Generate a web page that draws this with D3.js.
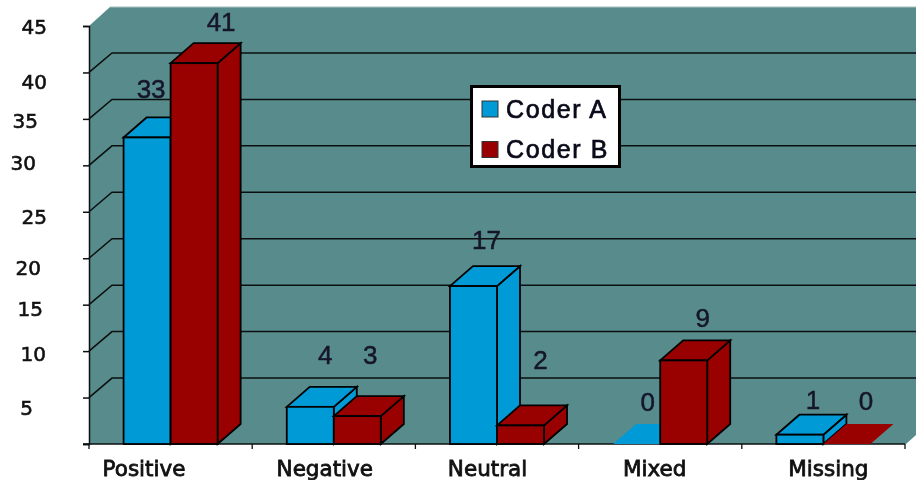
<!DOCTYPE html>
<html><head><meta charset="utf-8">
<script src="https://d3js.org/d3.v7.min.js"></script>
<style>html,body{margin:0;padding:0;background:#fff}svg{display:block;filter:blur(0.4px)}</style>
</head><body><svg id="c" width="916" height="480"></svg>
<script>
const categories = ["Positive","Negative","Neutral","Mixed","Missing"];
const coderA = [33,4,17,0,1];
const coderB = [41,3,2,9,0];
const seriesNames = ["Coder A","Coder B"];
const tickValues = [0,5,10,15,20,25,30,35,40,45];
// hand-set drift of the labels in the source picture
const tickNudgeX = {5:-14,10:-1,15:-4,20:-6,25:0,30:-11,35:-9,40:0,45:0};
const tickNudgeY = {5:10,10:2,15:4,20:9,25:5,30:-3,35:1,40:9,45:0};
const catNudgeX = [-26.6,-9,-9.5,-5.5,5];
const valueNudgeX = [[4,15,13,11,13],[27,13,20,19,19]];
const valueNudgeY = [[19,23,17,13,6],[12,32,36,13,14]];

const svg = d3.select("#c");
const M = {l:89,r:905,b:444,t:26,dx:23,dy:20};
const colors = {wall:"#588c8c",a:"#009bd6",b:"#990000",ink:"#0a0f0f"};
const y = d3.scaleLinear().domain([0,45]).range([M.b,M.t]);
const x0 = d3.scaleBand().domain(categories).range([M.l,M.r]).paddingInner(0.4237).paddingOuter(0.21185);
const x1 = d3.scaleBand().domain([0,1]).range([0,x0.bandwidth()]);
const poly = p => p.map(q=>q.join(",")).join(" ");

// walls and floor
svg.append("polygon").attr("fill",colors.wall).attr("points",poly([
  [M.l,M.t],[M.l+21,7],[916,7],[916,435],[M.r+1,M.b],[M.l,M.b]]));
svg.append("line").attr("x1",M.l+21).attr("y1",7).attr("x2",916).attr("y2",7).attr("stroke","#a9bfbf").attr("stroke-width",1);

// grid
const grid = svg.append("g").attr("fill","none").attr("stroke",colors.ink).attr("stroke-width",1.5);
tickValues.filter(v=>v>0 && v<45).forEach(v=>{
  grid.append("path").attr("d",d3.line()([[M.l,y(v)],[M.l+M.dx,y(v)-M.dy+0.5],[916,y(v)-M.dy+0.5]]));
});

// axes
const gy = svg.append("g").attr("transform",`translate(${M.l},0)`)
  .call(d3.axisLeft(y).tickValues(tickValues).tickSize(6).tickFormat(d=>d===0?"":d));
gy.select(".domain").attr("stroke",colors.ink).attr("stroke-width",1.5);
gy.selectAll(".tick line").attr("stroke",colors.ink).attr("stroke-width",1.5);
gy.selectAll(".tick text")
  .attr("font-family","DejaVu Sans").attr("font-size",20).attr("fill","#111").attr("stroke","#111").attr("stroke-width",0.6)
  .attr("text-anchor","end")
  .attr("x",d=>-42+(tickNudgeX[d]||0)).attr("dy","0.36em")
  .attr("y",d=>(tickNudgeY[d]||0));

const gx = svg.append("g").attr("transform",`translate(0,${M.b})`)
  .call(d3.axisBottom(x0).tickSize(0).tickPadding(17));
gx.select(".domain").remove();
gx.selectAll(".tick text").attr("font-family","DejaVu Sans").attr("font-size",21.5)
  .attr("fill","#111").attr("stroke","#111").attr("stroke-width",0.8)
  .attr("dx",(d,i)=>catNudgeX[i]);
svg.append("g").selectAll("line").data(d3.range(categories.length+1)).join("line")
  .attr("x1",i=>M.l+i*x0.step()).attr("x2",i=>M.l+i*x0.step())
  .attr("y1",M.b).attr("y2",M.b+5).attr("stroke",colors.ink).attr("stroke-width",1.3);
svg.append("line").attr("x1",M.l-6).attr("x2",M.r).attr("y1",M.b).attr("y2",M.b).attr("stroke",colors.ink).attr("stroke-width",1.5);

// bars: back to front, series A before B within a category
const rows = [];
categories.forEach((c,i)=>{ rows.push({c,i,s:0,v:coderA[i]}); rows.push({c,i,s:1,v:coderB[i]}); });
const bars = svg.append("g").attr("stroke","#000").attr("stroke-width",1.8).attr("stroke-linejoin","miter");
rows.forEach(r=>{
  const xl = x0(r.c)+x1(r.s), xr = xl+x1.bandwidth(), yt = y(r.v), yb = y(0);
  const fill = r.s===0?colors.a:colors.b;
  const g = bars.append("g").attr("fill",fill);
  if (r.v>0) {
    g.append("polygon").attr("points",poly([[xr,yt],[xr+M.dx,yt-M.dy],[xr+M.dx,yb-M.dy],[xr,yb]]));
    g.append("polygon").attr("points",poly([[xl,yt],[xl+M.dx,yt-M.dy],[xr+M.dx,yt-M.dy],[xr,yt]]));
    g.append("rect").attr("x",xl).attr("y",yt).attr("width",xr-xl).attr("height",yb-yt);
  } else {
    g.append("polygon").attr("stroke","none").attr("points",poly([[xl,yb],[xl+M.dx,yb-M.dy],[xr+M.dx,yb-M.dy],[xr,yb]]));
  }
});
svg.append("g").selectAll("text").data(rows).join("text")
  .attr("x",d=>x0(d.c)+x1(d.s)+x1.bandwidth()/2+valueNudgeX[d.s][d.i])
  .attr("y",d=>y(d.v)-M.dy-valueNudgeY[d.s][d.i])
  .attr("text-anchor","middle").attr("font-family","Liberation Sans").attr("font-size",26)
  .attr("fill","#16162a").attr("stroke","#16162a").attr("stroke-width",0.5).text(d=>d.v);

// legend
const lg = svg.append("g").attr("transform","translate(471.5,86.5)");
lg.append("rect").attr("width",148).attr("height",80).attr("fill","#fff").attr("stroke","#000").attr("stroke-width",3);
seriesNames.forEach((n,i)=>{
  const row = lg.append("g").attr("transform",`translate(10.5,${14.5+i*40.5})`);
  row.append("rect").attr("width",16).attr("height",16).attr("fill",i?colors.b:colors.a).attr("stroke","#333").attr("stroke-width",1);
  row.append("text").attr("x",24).attr("y",16.5).attr("font-family","Liberation Sans").attr("font-size",25)
    .attr("letter-spacing",1.6).attr("stroke","#0a0a1a").attr("stroke-width",0.7).attr("fill","#0a0a1a").text(n);
});
</script></body></html>
